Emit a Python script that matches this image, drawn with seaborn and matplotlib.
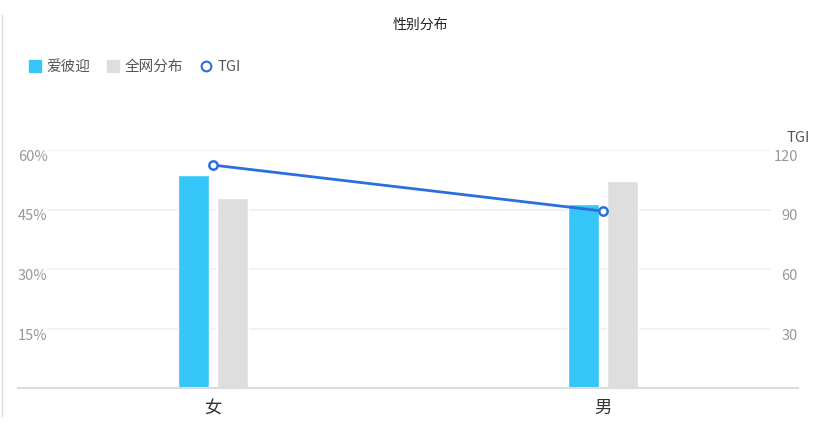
import matplotlib

matplotlib.use("Agg")
import matplotlib.pyplot as plt
import pandas as pd
import seaborn as sns
from matplotlib.lines import Line2D

sns.set_theme(style="white")
plt.rcParams["font.family"] = ["Noto Sans CJK SC", "DejaVu Sans"]

# 数据
genders = ["女", "男"]
airbnb = [53.8, 46.3]
whole_net = [47.9, 52.1]
tgi = [112.4, 89.2]
left_ticks = [15, 30, 45, 60]
right_ticks = [30, 60, 90, 120]

series_names = ["爱彼迎", "全网分布"]
colors = ["#36c6f8", "#dedede"]
line_color = "#2b6fdf"

df = pd.DataFrame(
    {
        "性别": genders * 2,
        "系列": [series_names[0]] * 2 + [series_names[1]] * 2,
        "占比": airbnb + whole_net,
    }
)

fig = plt.figure(figsize=(8.33, 4.32), dpi=100)
ax = fig.add_axes([18 / 833, 44 / 432, 780 / 833, 238 / 432])

sns.barplot(
    data=df,
    x="性别",
    y="占比",
    hue="系列",
    palette=colors,
    width=0.2,
    gap=0.23,
    saturation=1,
    legend=False,
    ax=ax,
)
ax.set_xlim(-0.5, 1.5)
ax.set_ylim(0, 60)
ax.set_xlabel("")
ax.set_ylabel("")
ax.set_yticks(left_ticks)
ax.set_yticklabels([f"{t}%" for t in left_ticks])
ax.tick_params(axis="y", length=0, pad=0, labelsize=10.5, labelcolor="#999999")
for lab in ax.get_yticklabels():
    lab.set_horizontalalignment("left")
    lab.set_verticalalignment("top")
ax.tick_params(axis="x", length=0, pad=8, labelsize=12.5, labelcolor="#333333")

# 网格线（不穿过刻度标签）
for t in left_ticks:
    ax.axhline(t, xmin=30 / 780, xmax=752 / 780, color="#f0f0f0", lw=1.2, zorder=0)

for side in ["top", "left", "right"]:
    ax.spines[side].set_visible(False)
ax.spines["bottom"].set_color("#dcdcdc")
ax.spines["bottom"].set_linewidth(1.5)

# TGI 折线
ax2 = ax.twinx()
sns.lineplot(
    x=[0, 1],
    y=tgi,
    color=line_color,
    lw=2,
    marker="o",
    markersize=6,
    markerfacecolor="white",
    markeredgecolor=line_color,
    markeredgewidth=1.8,
    ax=ax2,
)
ax2.set_ylim(0, 120)
ax2.set_yticks(right_ticks)
ax2.tick_params(axis="y", length=0, pad=0, labelsize=10.5, labelcolor="#999999")
for lab in ax2.get_yticklabels():
    lab.set_horizontalalignment("right")
    lab.set_verticalalignment("top")
for side in ["top", "left", "right", "bottom"]:
    ax2.spines[side].set_visible(False)
ax2.set_ylabel("TGI", rotation=0, fontsize=10.5, color="#555555")
ax2.yaxis.set_label_coords(1.0, 1.08)

# 标题和图例
fig.suptitle("性别分布", x=0.505, y=1 - 25 / 432, fontsize=10, color="#222222", va="center")
handles = [
    Line2D([], [], ls="", marker="s", markersize=9, color=colors[0]),
    Line2D([], [], ls="", marker="s", markersize=9, color=colors[1]),
    Line2D([], [], ls="", marker="o", markersize=7, markerfacecolor="white",
           markeredgecolor=line_color, markeredgewidth=1.5),
]
fig.legend(
    handles,
    series_names + ["TGI"],
    loc="center left",
    bbox_to_anchor=(16 / 833, 1 - 67 / 432),
    ncol=3,
    frameon=False,
    fontsize=10.5,
    labelcolor="#555555",
    handlelength=0.8,
    handletextpad=0.4,
    columnspacing=1.15,
)

# 左侧边框线
fig.add_artist(Line2D([2 / 833, 2 / 833], [1 - 416 / 432, 1 - 15 / 432],
                      transform=fig.transFigure, color="#dddddd", lw=1))

fig.savefig("out.png", dpi=100, facecolor="white")
